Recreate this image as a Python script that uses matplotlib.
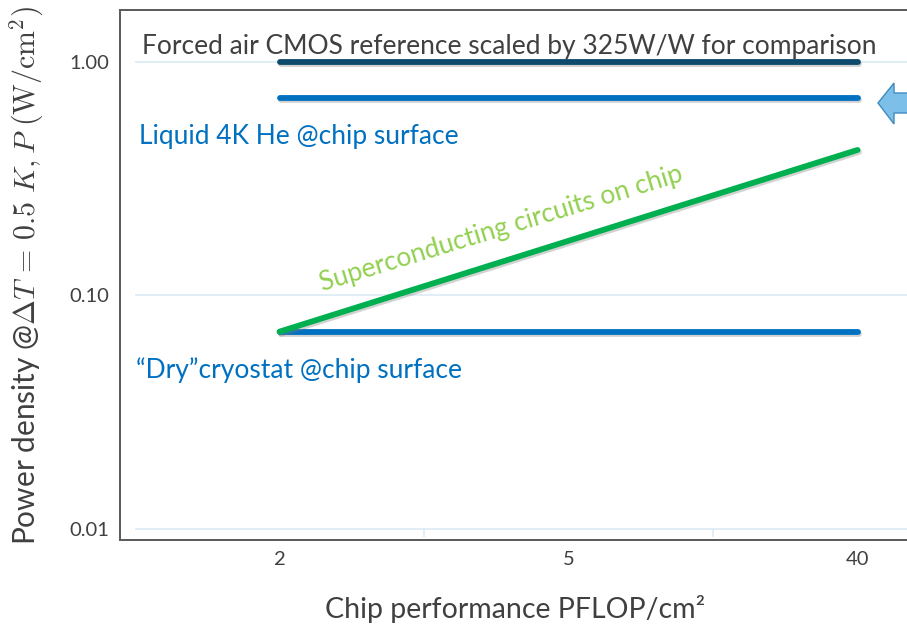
import numpy as np
import matplotlib.pyplot as plt
import matplotlib.patheffects as pe
from matplotlib.patches import Polygon

plt.rcParams['font.family'] = ['Lato', 'DejaVu Sans']
plt.rcParams['mathtext.fontset'] = 'cm'

# chip performance categories (PFLOP/cm^2)
perf_labels = ['2', '5', '40']
xpos = np.arange(len(perf_labels))

# power density levels (W/cm^2)
cmos_ref = [1.0, 1.0]          # forced air CMOS scaled by 325 W/W
liquid_he = [0.70, 0.70]       # liquid 4K He at chip surface
dry_cryo = [0.070, 0.070]      # dry cryostat at chip surface
sc_circuits = [0.070, 0.42]    # superconducting circuits on chip
line_x = [0, 2]

ytick_vals = [0.01, 0.1, 1.0]
ytick_labels = ['0.01', '0.10', '1.00']

fig = plt.figure(figsize=(9.07, 6.28), dpi=100)
ax = fig.add_axes([0.1323, 0.1401, 0.8677, 0.8440])
ax.set_yscale('log')
ax.set_xlim(-0.552, 2.171)
ax.set_ylim(0.00897, 1.67)

grid_c = '#dcebf3'
for v in ytick_vals:
    ax.hlines(v, -0.5, 2.6, color=grid_c, lw=1.2, zorder=1)
for b in [0.5, 1.5]:
    ax.vlines(b, 0.0092, 0.01, color=grid_c, lw=1.2, zorder=1)

shadow = [pe.SimpleLineShadow(offset=(1, -1.5), shadow_color='gray', alpha=0.35), pe.Normal()]
for ys, c, z in [(cmos_ref, '#0d4a6b', 3), (liquid_he, '#0070c0', 3),
                 (dry_cryo, '#0070c0', 3), (sc_circuits, '#00b050', 4)]:
    ax.plot(line_x, ys, color=c, lw=4.2, solid_capstyle='round',
            path_effects=shadow, zorder=z)

ax.text(-0.475, 1.17, 'Forced air CMOS reference scaled by 325W/W for comparison',
        fontsize=19, color='#404040', va='center', ha='left')
ax.text(-0.487, 0.48, 'Liquid 4K He @chip surface',
        fontsize=19, color='#0070c0', va='center', ha='left')
ax.text(-0.497, 0.048, '\u201cDry\u201dcryostat @chip surface',
        fontsize=19, color='#0070c0', va='center', ha='left')
ax.text(0.15, 0.104, 'Superconducting circuits on chip', fontsize=19,
        color='#92d050', rotation=17.0, rotation_mode='anchor',
        va='baseline', ha='left')

# block arrow pointing at the liquid He level
pts = np.array([[878, 103], [894, 83], [894, 93], [915, 93],
                [915, 113], [894, 113], [894, 124]], dtype=float)
pts[:, 1] = 628 - pts[:, 1]
fig.patches.append(Polygon(pts / np.array([907, 628]), closed=True,
                           transform=fig.transFigure,
                           facecolor='#7cc0ea', edgecolor='#3f8ac0', lw=1))

ax.set_yticks(ytick_vals)
ax.set_yticklabels(ytick_labels)
ax.minorticks_off()
ax.set_xticks(xpos)
ax.set_xticklabels(perf_labels)
ax.tick_params(length=0, labelsize=14.5, labelcolor='#404040')
ax.tick_params(axis='y', pad=8)
ax.tick_params(axis='x', pad=8)

for s in ['left', 'bottom', 'top']:
    ax.spines[s].set_color('#595959')
    ax.spines[s].set_linewidth(1.4)
ax.spines['right'].set_visible(False)

fig.text(515 / 907, 1 - 609 / 628, 'Chip performance PFLOP/cm\u00b2', fontsize=20.5,
         color='#404040', ha='center', va='center')
fig.text(27 / 907, 1 - 276 / 628,
         r'Power density @$\Delta T\,=\,0.5\ K,P\ (\mathrm{W/cm}^2)$',
         fontsize=21.5, color='#404040', ha='center', va='center', rotation=90)

fig.savefig('out.png', dpi=100)
